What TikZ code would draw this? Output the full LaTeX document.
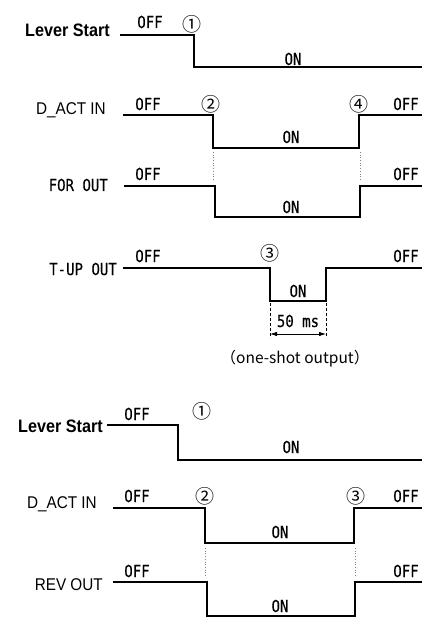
\documentclass[tikz,border=0pt]{standalone}
\usepackage{fontspec}
\setmainfont{Liberation Sans}
\newfontfamily\namefont{Liberation Sans}[FakeStretch=0.9]
\newfontfamily\sigfont{DejaVu Sans Mono}[FakeStretch=0.85, FakeBold=0.3]
\newfontfamily\cjkfont{Noto Sans CJK JP}
\usetikzlibrary{arrows.meta}

\begin{document}
\begin{tikzpicture}[x=1pt, y=-1pt, >={Latex[length=7pt, width=4.5pt]},
    wave/.style={line width=2.6pt, line join=miter},
    sigbold/.style={anchor=base east, inner sep=0pt, font=\namefont\bfseries\fontsize{18}{20}\selectfont},
    signame/.style={anchor=base east, inner sep=0pt, font=\namefont\fontsize{17}{19}\selectfont},
    sigmono/.style={anchor=base east, inner sep=0pt, font=\sigfont\fontsize{16.5}{18}\selectfont},
    lvl/.style={anchor=base, inner sep=0pt, font=\sigfont\fontsize{16.5}{18}\selectfont},
    evt/.style={inner sep=0pt, font=\cjkfont\fontsize{19}{20}\selectfont},
    guide/.style={gray, line width=0.7pt, dotted},
    dim/.style={line width=0.7pt, dash pattern=on 3pt off 2pt}]

  \useasboundingbox (0,0) rectangle (422,617);

  % --- Arranque hacia delante ---

  \node[sigbold] (lsA) at (110,37) {Lever Start};
  \draw[wave] (120,35) -- (194,35) -- (194,67) -- (424,67);
  \node[lvl] (lsAoff) at (150,28) {OFF};
  \node[evt] (lsAev) at (192,24) {①};
  \node[lvl] (lsAon) at (293,65) {ON};

  \node[signame] (dinA) at (106,115) {D\_ACT IN};
  \draw[wave] (123,115) -- (213,115) -- (213,148) -- (359,148) -- (359,115) -- (424,115);
  \node[lvl] (dinAoff) at (148,110) {OFF};
  \node[evt] (dinAev) at (211,104) {②};
  \node[evt] (dinAend) at (359,104) {④};
  \node[lvl] (dinAoff2) at (406,110) {OFF};
  \node[lvl] (dinAon) at (291,143) {ON};

  \draw[guide] (213,152) -- (213,181);
  \draw[guide] (360,152) -- (360,181);

  \node[sigmono] (forout) at (108,191) {FOR OUT};
  \draw[wave] (124,186) -- (215,186) -- (215,217) -- (360,217) -- (360,186) -- (424,186);
  \node[lvl] (foroff) at (148,180) {OFF};
  \node[lvl] (foroff2) at (406,180) {OFF};
  \node[lvl] (foron) at (291,213) {ON};

  \node[sigmono] (tup) at (117,275) {T-UP OUT};
  \draw[wave] (123,268) -- (270,268) -- (270,301) -- (326,301) -- (326,268) -- (424,268);
  \node[lvl] (tupoff) at (148,262) {OFF};
  \node[evt] (tupev) at (270,253) {③};
  \node[lvl] (tupon) at (298,297) {ON};
  \node[lvl] (tupoff2) at (406,262) {OFF};

  % pulso de 50 ms
  \coordinate (pulseL) at (270,303);
  \coordinate (pulseR) at (326,303);
  \coordinate (spanL) at (270,338);
  \coordinate (spanR) at (326,338);
  \draw[dim] (pulseL) -- (spanL);
  \draw[dim] (pulseR) -- (spanR);
  \coordinate (arrL) at (270,334);
  \coordinate (arrR) at (326,334);
  \draw[<->, line width=0.8pt] (arrL) -- (arrR);
  \node[lvl] (pulsew) at (298,327) {50 ms};
  \node[anchor=base, inner sep=0pt, font=\cjkfont\fontsize{15.5}{17}\selectfont] (oneshot)
        at (295,363) {（one-shot output）};

  % --- Arranque hacia atrás ---

  \node[sigbold] (lsB) at (103,432) {Lever Start};
  \draw[wave] (107,425) -- (178,425) -- (178,460) -- (424,460);
  \node[lvl] (lsBoff) at (137,420) {OFF};
  \node[evt] (lsBev) at (202,411) {①};
  \node[lvl] (lsBon) at (291,453) {ON};

  \node[signame] (dinB) at (97,508) {D\_ACT IN};
  \draw[wave] (113,508) -- (205,508) -- (205,543) -- (354,543) -- (354,508) -- (424,508);
  \node[lvl] (dinBoff) at (137,502) {OFF};
  \node[evt] (dinBev) at (205,496) {②};
  \node[evt] (dinBend) at (356,496) {③};
  \node[lvl] (dinBoff2) at (406,502) {OFF};
  \node[lvl] (dinBon) at (280,538) {ON};

  \draw[guide] (205,548) -- (205,576);
  \draw[guide] (355,548) -- (355,576);

  \node[signame] (revout) at (103,590) {REV OUT};
  \draw[wave] (113,582) -- (207,582) -- (207,616) -- (355,616) -- (355,582) -- (424,582);
  \node[lvl] (revoff) at (137,577) {OFF};
  \node[lvl] (revoff2) at (406,577) {OFF};
  \node[lvl] (revon) at (280,612) {ON};
\end{tikzpicture}
\end{document}
